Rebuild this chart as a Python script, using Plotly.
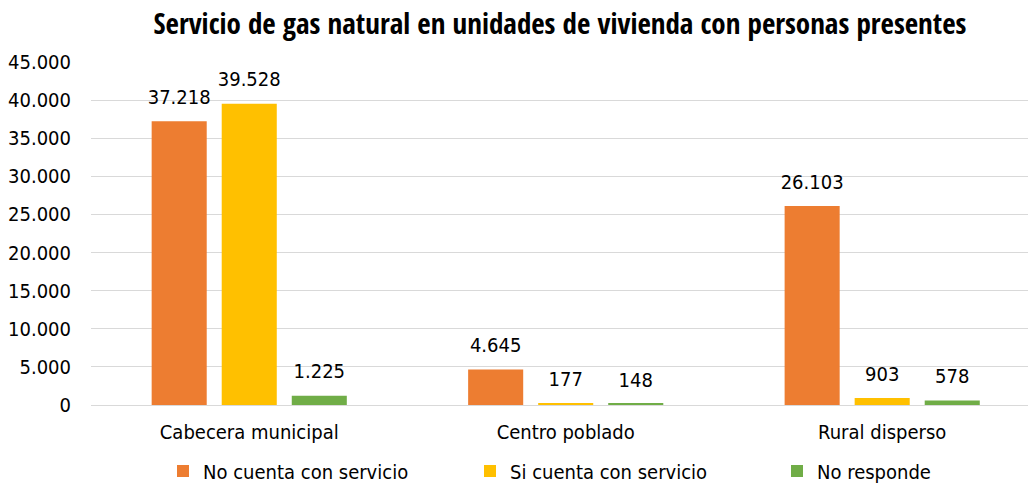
import plotly.graph_objects as go

categories = ["Cabecera municipal", "Centro poblado", "Rural disperso"]
series_names = ["No cuenta con servicio", "Si cuenta con servicio", "No responde"]
no_cuenta = [37218, 4645, 26103]
si_cuenta = [39528, 177, 903]
no_responde = [1225, 148, 578]
colors = ["#ED7D31", "#FFC000", "#70AD47"]
y_ticks = [0, 5000, 10000, 15000, 20000, 25000, 30000, 35000, 40000, 45000]
title_text = "Servicio de gas natural en unidades de vivienda con personas presentes"

FONT = "'DejaVu Sans Condensed', 'Liberation Sans', sans-serif"
TFONT = "'Open Sans Condensed', 'DejaVu Sans Condensed', sans-serif"
FS = 20

# page body has an 8px margin; figure is sized/positioned to compensate
W, H = 1028, 479

fig = go.Figure()
all_series = [no_cuenta, si_cuenta, no_responde]
for i, (name, vals) in enumerate(zip(series_names, all_series)):
    fig.add_trace(go.Bar(
        x=categories, y=vals, name=name,
        marker=dict(color=colors[i], line=dict(width=0)),
        offsetgroup=str(i), alignmentgroup="a",
    ))
for i, (name, vals) in enumerate(zip(series_names, all_series)):
    fig.add_trace(go.Scatter(
        x=categories, y=vals, mode="markers+text",
        text=[f"{v:,}".replace(",", ".") for v in vals],
        textposition="top center",
        textfont=dict(family=FONT, size=FS, color="#000000"),
        marker=dict(size=18, opacity=0, color="rgba(0,0,0,0)"),
        offsetgroup=str(i), alignmentgroup="a",
        showlegend=False, hoverinfo="skip", cliponaxis=False,
    ))

fig.update_layout(
    width=W, height=H,
    margin=dict(l=83, r=0, t=54, b=82),
    paper_bgcolor="white", plot_bgcolor="white",
    separators=",.",
    barmode="group", bargap=0.336, bargroupgap=0.214,
    scattermode="group", scattergap=0.336,
    font=dict(family=FONT, size=FS, color="#000000"),
    title=dict(text="<b>" + title_text + "</b>", x=552 / W, xanchor="center",
               y=1 - 16 / H, yanchor="middle", xref="container", yref="container",
               font=dict(family=TFONT, size=29, color="#000000", weight="bold")),
    showlegend=True,
    legend=dict(orientation="h", xref="container", yref="container",
                x=155 / W, xanchor="left", y=1 - 463 / H, yanchor="middle",
                entrywidth=262, entrywidthmode="pixels",
                font=dict(family=FONT, size=FS, color="#000000"),
                bgcolor="rgba(0,0,0,0)", itemclick=False),
    xaxis=dict(type="category", range=[-0.5, 2.486], showgrid=False, showline=False,
               ticks="", tickfont=dict(family=FONT, size=FS, color="#000000"),
               ticklabelstandoff=13),
    yaxis=dict(range=[0, 45000], tickvals=y_ticks, tickformat=",d",
               showgrid=True, gridcolor="#D9D9D9", gridwidth=1.3,
               zeroline=True, zerolinecolor="#D9D9D9", zerolinewidth=1.3,
               showline=False, ticks="", ticklabelstandoff=19,
               tickfont=dict(family=FONT, size=FS, color="#000000")),
)

fig.write_html("out.html")
